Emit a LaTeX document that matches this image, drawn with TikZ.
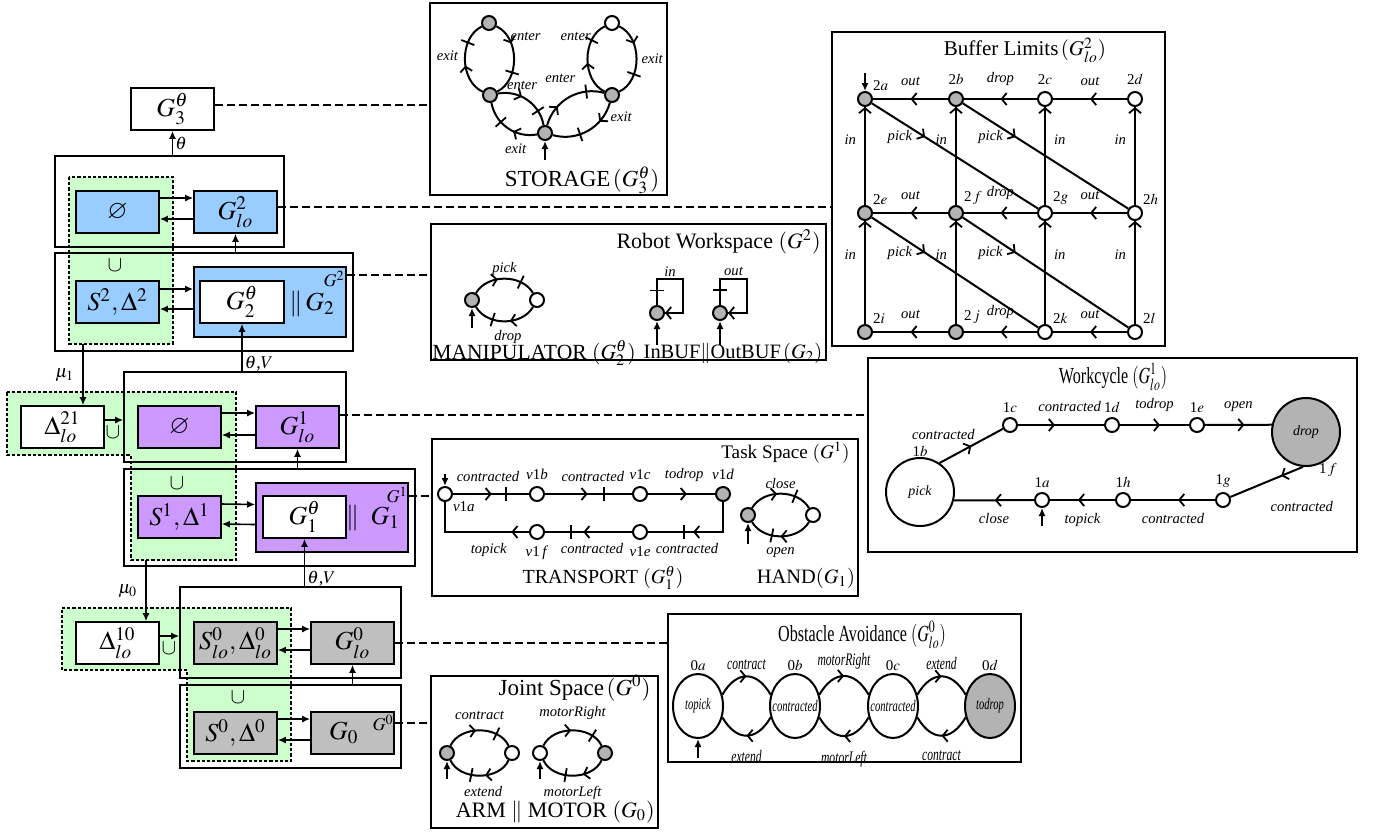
\documentclass[tikz,border=0pt]{standalone}
\usepackage{amsmath,amssymb}
\usepackage{mathptmx}
\usepackage{fontspec}
\setmainfont{Liberation Serif}
\usepackage{xcolor}
\usepackage{tikz}
\usetikzlibrary{arrows.meta, positioning, shapes.geometric, decorations.markings}

\definecolor{lvltwo}{RGB}{153,204,255}
\definecolor{lvlone}{RGB}{204,153,255}
\definecolor{lvlzero}{RGB}{191,191,191}
\definecolor{shared}{RGB}{204,255,204}
\definecolor{marked}{RGB}{179,179,179}

\begin{document}
\begin{tikzpicture}[
    x=0.5pt, y=-0.5pt,
    frame/.style={draw, line width=0.8pt, inner sep=0pt},
    blk/.style={draw, line width=0.8pt, inner sep=0pt, minimum width=41.5pt, minimum height=21pt, font=\fontsize{13}{14}\selectfont},
    shareset/.style={fill=shared, draw=black, line width=0.7pt, dash pattern=on 1.6pt off 1pt},
    panel/.style={draw, line width=0.9pt, inner sep=0pt},
    ttl/.style={font=\fontsize{11}{12}\selectfont, inner sep=1pt},
    ttlc/.style={font=\fontsize{11.5}{12}\selectfont, inner sep=1pt, xscale=0.7},
    sym/.style={font=\fontsize{9}{10}\selectfont, inner sep=1pt},
    uni/.style={font=\fontsize{11}{12}\selectfont, inner sep=1pt},
    arr/.style={-{Latex[length=4pt,width=3.5pt]}, line width=0.8pt},
    link/.style={dash pattern=on 4pt off 2pt, line width=0.8pt},
    st/.style={circle, draw, line width=1pt, minimum size=7pt, inner sep=0pt, fill=white},
    mst/.style={st, fill=marked},
    bigst/.style={circle, draw, line width=1pt, minimum size=34pt, inner sep=0pt, font=\fontsize{7}{8}\selectfont\itshape},
    obs/.style={ellipse, draw, line width=1pt, minimum width=25pt, minimum height=32pt, inner sep=0pt},
    obsl/.style={font=\fontsize{8}{9}\selectfont\itshape, inner sep=0pt, xscale=0.66},
    evl/.style={font=\fontsize{7.3}{8}\selectfont\itshape, inner sep=1pt},
    evlc/.style={font=\fontsize{8.8}{9}\selectfont\itshape, inner sep=1pt, xscale=0.66},
    stl/.style={font=\fontsize{7.5}{8}\selectfont, inner sep=1pt},
    tr/.style={line width=1pt},
    arw/.style={postaction={decorate, decoration={markings, mark=at position #1 with {\arrow[line width=0.9pt]{Straight Barb[length=2.5pt,width=6pt]}}}}},
    arw/.default=0.5,
    tck/.style={postaction={decorate, decoration={markings, mark=at position #1 with {\draw[line width=0.9pt] (0pt,-3.5pt) -- (0pt,3.5pt);}}}},
    init/.style={-{Latex[length=4pt,width=3.5pt]}, line width=1pt},
]
\useasboundingbox (0,0) rectangle (1374,832);

% shared state sets
\filldraw[shareset] (69,177) rectangle (173,344);
\filldraw[shareset] (7,392) -- (236,392) -- (236,560) -- (131,560) -- (131,455) -- (7,455) -- cycle;
\filldraw[shareset] (62,608) -- (291,608) -- (291,761) -- (187,761) -- (187,670) -- (62,670) -- cycle;

% level frames
\node[frame, minimum width=114.5pt, minimum height=45.5pt] (top2) at (169.5,201.5) {};
\node[frame, minimum width=149pt, minimum height=49pt] (bot2) at (204,302) {};
\node[frame, minimum width=111pt, minimum height=45pt] (top1) at (235,417) {};
\node[frame, minimum width=145.5pt, minimum height=48.5pt] (bot1) at (269.5,517.5) {};
\node[frame, minimum width=110.5pt, minimum height=45.5pt] (top0) at (290.5,632.5) {};
\node[frame, minimum width=110.5pt, minimum height=41.5pt] (bot0) at (290.5,726.5) {};

% level 2
\node[blk, fill=white] (G3) at (172.5,109) {$G_3^\theta$};
\node[blk, fill=lvltwo] (emp2) at (117.5,212) {$\varnothing$};
\node[blk, fill=lvltwo] (Glo2) at (235.5,212) {$G^2_{lo}$};
\node[blk, fill=lvltwo] (SD2) at (117.5,302) {$S^2,\Delta^2$};
\node[frame, fill=lvltwo, minimum width=76pt, minimum height=35pt] (sys2) at (270,302) {};
\node[blk, fill=white, minimum width=42pt] (Gth2) at (242,302) {$G_2^\theta$};
\node[font=\fontsize{13}{14}\selectfont] (par2) at (312,304) {$\|\,G_2$};
\node[sym] (tag2) at (334,279) {$G^2$};
\node[uni] (un2) at (115,265) {$\cup$};

% level 1
\node[blk, fill=white] (D21) at (62.5,427) {$\Delta^{21}_{lo}$};
\node[blk, fill=lvlone] (emp1) at (179.5,427) {$\varnothing$};
\node[blk, fill=lvlone] (Glo1) at (297.5,427) {$G^1_{lo}$};
\node[blk, fill=lvlone] (SD1) at (179.5,517) {$S^1,\Delta^1$};
\node[frame, fill=lvlone, minimum width=76pt, minimum height=34.5pt] (sys1) at (332,517.5) {};
\node[blk, fill=white] (Gth1) at (304.5,517) {$G_1^\theta$};
\node[font=\fontsize{13}{14}\selectfont] (par1) at (373,518) {$\|\;\;G_1$};
\node[sym] (tag1) at (397,495) {$G^1$};
\node[uni] (un1) at (177,483) {$\cup$};
\node[uni] (un21) at (113,432) {$\cup$};

% level 0
\node[blk, fill=white] (D10) at (117.5,643) {$\Delta^{10}_{lo}$};
\node[blk, fill=lvlzero] (SDlo0) at (235.5,643) {$S^0_{lo},\Delta^0_{lo}$};
\node[blk, fill=lvlzero] (Glo0) at (352.5,643) {$G^0_{lo}$};
\node[blk, fill=lvlzero] (SD0) at (235.5,733) {$S^0,\Delta^0$};
\node[blk, fill=lvlzero] (G0) at (352.5,733) {$G_0\;\;\;$};
\node[sym] (tag0) at (383,723) {$G^0$};
\node[uni] (un0) at (238,697) {$\cup$};
\node[uni] (un10) at (169,648) {$\cup$};

% level connectors
\draw[arr] ([yshift=7pt]emp2.east) -- ([yshift=7pt]Glo2.west);
\draw[arr] ([yshift=-3.5pt]Glo2.west) -- ([yshift=-3.5pt]emp2.east);
\draw[arr] ([yshift=6.5pt]SD2.east) -- ([yshift=6.5pt]sys2.west);
\draw[arr] ([yshift=-3.5pt]sys2.west) -- ([yshift=-3.5pt]SD2.east);
\draw[arr] ([yshift=7pt]emp1.east) -- ([yshift=7pt]Glo1.west);
\draw[arr] ([yshift=-4pt]Glo1.west) -- ([yshift=-4pt]emp1.east);
\draw[arr] ([yshift=6.5pt]SD1.east) -- ([yshift=6.5pt]sys1.west);
\draw[arr] ([yshift=-3.5pt]sys1.west) -- ([yshift=-3.5pt]SD1.east);
\draw[arr] ([yshift=7pt]SDlo0.east) -- ([yshift=7pt]Glo0.west);
\draw[arr] ([yshift=-3.5pt]Glo0.west) -- ([yshift=-3.5pt]SDlo0.east);
\draw[arr] ([yshift=7pt]SD0.east) -- ([yshift=7pt]G0.west);
\draw[arr] ([yshift=-3.5pt]G0.west) -- ([yshift=-3.5pt]SD0.east);

\draw[arr] (top2.north -| G3) -- (G3.south) node[sym, midway, right] {$\theta$};
\draw[arr] (bot2.north -| Glo2) -- (Glo2.south);
\draw[arr] (top1.north -| Gth2) -- (Gth2.south) node[sym, pos=0.15, right] {$\theta$,$V$};
\draw[arr] (bot1.north -| Glo1) -- (Glo1.south);
\draw[arr] (top0.north -| Gth1) -- (Gth1.south) node[sym, pos=0.15, right] {$\theta$,$V$};
\draw[arr] (bot0.north -| Glo0) -- (Glo0.south);

\coordinate (foot2) at (83,344);
\coordinate (foot1) at (146,560);
\draw[arr] (foot2) -- (foot2 |- D21.north) node[sym, midway, left=3pt] {$\mu_1$};
\draw[arr] (foot1) -- (foot1 |- D10.north) node[sym, midway, left=3pt] {$\mu_0$};
\draw[arr] ([yshift=3.5pt]D21.east) -- ([yshift=3.5pt]D21.east -| top1.west);
\draw[arr] ([yshift=3.5pt]D10.east) -- ([yshift=3.5pt]D10.east -| top0.west);

% panels
\node[panel, minimum width=118.5pt, minimum height=96pt] (stor) at (548.5,99) {};
\node[panel, minimum width=197.5pt, minimum height=68pt] (robot) at (628.5,292) {};
\node[panel, minimum width=166.5pt, minimum height=157pt] (buf) at (998.5,189) {};
\node[panel, minimum width=244.5pt, minimum height=97pt] (work) at (1112.5,455) {};
\node[panel, minimum width=213pt, minimum height=78.5pt] (task) at (645,517.5) {};
\node[panel, minimum width=176.5pt, minimum height=74pt] (obst) at (844.5,688) {};
\node[panel, minimum width=113.5pt, minimum height=76pt] (joint) at (544.5,752) {};

% dashed links
\draw[link] ([yshift=2pt]G3.east) -- ([yshift=2pt]G3.east -| stor.west);
\draw[link] ([yshift=2.5pt]Glo2.east) -- ([yshift=2.5pt]Glo2.east -| buf.west);
\draw[link] ([yshift=13.5pt]sys2.east) -- ([yshift=13.5pt]sys2.east -| robot.west);
\draw[link] ([yshift=6pt]Glo1.east) -- ([yshift=6pt]Glo1.east -| work.west);
\draw[link] ([yshift=10.75pt]sys1.east) -- ([yshift=10.75pt]sys1.east -| task.west);
\draw[link] (Glo0.east) -- (Glo0.east -| obst.west);
\draw[link] ([yshift=5pt]G0.east) -- ([yshift=5pt]G0.east -| joint.west);

% STORAGE
\node[ttl, font=\fontsize{11.5}{12}\selectfont] (ttlstor) at (582,180) {STORAGE$\,(G_3^\theta)$};
\node[mst] (st1) at (489,23) {};
\node[st] (st2) at (612,23) {};
\node[mst] (st3) at (490,95) {};
\node[mst] (st4) at (612,95) {};
\node[mst] (st5) at (545,133) {};
\coordinate (st5in) at (545,160);
\draw[init] (st5in) -- (st5);
\draw[tr, arw=0.3, tck=0.68] (st1) to[bend left=65] node[evl, pos=0.2, right] {enter} (st3);
\draw[tr, arw=0.42, tck=0.72] (st3) to[bend left=65] node[evl, pos=0.55, left=2pt] {exit} (st1);
\draw[tr, arw=0.4, tck=0.75] (st3) to[bend left=45] node[evl, pos=0.4, above=2pt] {enter} (st5);
\draw[tr, arw=0.4, tck=0.65] (st5) to[bend left=45] node[evl, pos=0.35, below=4pt] {exit} (st3);
\draw[tr, arw=0.3, tck=0.75] (st5) to[bend left=45] node[evl, pos=0.35, above=9pt] {enter} (st4);
\draw[tr, arw=0.3, tck=0.62] (st4) to[bend left=45] node[evl, pos=0.2, right=2pt] {exit} (st5);
\draw[tr, arw=0.45, tck=0.75] (st4) to[bend left=65] node[evl, pos=0.8, left] {enter} (st2);
\draw[tr, arw=0.3, tck=0.7] (st2) to[bend left=65] node[evl, pos=0.5, right=1pt] {exit} (st4);

% Robot Workspace
\node[ttl, anchor=east] (ttlrobot) at (823,242) {Robot Workspace $(G^2)$};
\node[ttl, font=\fontsize{10.8}{12}\selectfont] (ttlmanip) at (534,353) {MANIPULATOR $(G_2^\theta)$};
\node[ttl, font=\fontsize{10.2}{11}\selectfont] (ttlbuf) at (733,353) {InBUF$\|$OutBUF$\,(G_2)$};
\node[mst] (ma1) at (472,300) {};
\node[st] (ma2) at (537,300) {};
\coordinate (ma1in) at (472,328);
\draw[init] (ma1in) -- (ma1);
\draw[tr, arw=0.4, tck=0.75] (ma1) to[bend left=60] node[evl, pos=0.5, above] {pick} (ma2);
\draw[tr, arw=0.42, tck=0.68] (ma2) to[bend left=60] node[evl, pos=0.45, below=3pt] {drop} (ma1);
\node[mst] (inb) at (657,313) {};
\node[mst] (outb) at (720,313) {};
\coordinate (inbin) at (657,345);
\coordinate (outbin) at (720,345);
\draw[init] (inbin) -- (inb);
\draw[init] (outbin) -- (outb);
\draw[tr, tck=0.14, arw=1] (inb.north) |- ++(26,-26) node[evl, pos=0.75, above] {in} |- (inb.east);
\draw[tr, tck=0.14, arw=1] (outb.north) |- ++(27,-26) node[evl, pos=0.75, above] {out} |- (outb.east);

% Buffer Limits
\node[ttl, font=\fontsize{10.5}{12}\selectfont] (ttlbufl) at (1025,50) {Buffer Limits$\,(G^2_{lo})$};
\node[mst, label={[stl]above right:2$a$}] (b2a) at (865,99) {};
\node[mst, label={[stl,label distance=2pt]above:2$b$}] (b2b) at (956,99) {};
\node[st, label={[stl,label distance=2pt]above:2$c$}] (b2c) at (1045,99) {};
\node[st, label={[stl,label distance=2pt]above:2$d$}] (b2d) at (1135,99) {};
\node[mst, label={[stl]above right:2$e$}] (b2e) at (865,213) {};
\node[mst, label={[stl]above right:2$\,f$}] (b2f) at (956,213) {};
\node[st, label={[stl]above right:2$g$}] (b2g) at (1045,213) {};
\node[st, label={[stl]above right:2$h$}] (b2h) at (1135,213) {};
\node[mst, label={[stl]above right:2$i$}] (b2i) at (865,332) {};
\node[mst, label={[stl]above right:2$\,j$}] (b2j) at (956,332) {};
\node[st, label={[stl]above right:2$k$}] (b2k) at (1045,332) {};
\node[st, label={[stl]above right:2$l$}] (b2l) at (1135,332) {};
\coordinate (b2ain) at (865,73);
\draw[init] (b2ain) -- (b2a);
\draw[tr, arw] (b2b) -- node[evl, above=5pt] {out} (b2a);
\draw[tr, arw] (b2c) -- node[evl, above=5pt] {drop} (b2b);
\draw[tr, arw] (b2d) -- node[evl, above=5pt] {out} (b2c);
\draw[tr, arw] (b2f) -- node[evl, above=5pt] {out} (b2e);
\draw[tr, arw] (b2g) -- node[evl, above=5pt] {drop} (b2f);
\draw[tr, arw] (b2h) -- node[evl, above=5pt] {out} (b2g);
\draw[tr, arw] (b2j) -- node[evl, above=5pt] {out} (b2i);
\draw[tr, arw] (b2k) -- node[evl, above=5pt] {drop} (b2j);
\draw[tr, arw] (b2l) -- node[evl, above=5pt] {out} (b2k);
\draw[tr, arw=1] (b2e) -- node[evl, pos=0.67, left=3pt] {in} (b2a);
\draw[tr, arw=1] (b2f) -- node[evl, pos=0.67, left=3pt] {in} (b2b);
\draw[tr, arw=1] (b2g) -- node[evl, pos=0.67, right=3pt] {in} (b2c);
\draw[tr, arw=1] (b2h) -- node[evl, pos=0.67, left=3pt] {in} (b2d);
\draw[tr, arw=1] (b2i) -- node[evl, pos=0.67, left=3pt] {in} (b2e);
\draw[tr, arw=1] (b2j) -- node[evl, pos=0.67, left=3pt] {in} (b2f);
\draw[tr, arw=1] (b2k) -- node[evl, pos=0.67, right=3pt] {in} (b2g);
\draw[tr, arw=1] (b2l) -- node[evl, pos=0.67, left=3pt] {in} (b2h);
\draw[tr, arw=0.32] (b2a) -- node[evl, pos=0.32, left=5pt] {pick} (b2g);
\draw[tr, arw=0.32] (b2b) -- node[evl, pos=0.32, left=5pt] {pick} (b2h);
\draw[tr, arw=0.32] (b2e) -- node[evl, pos=0.32, left=5pt] {pick} (b2k);
\draw[tr, arw=0.32] (b2f) -- node[evl, pos=0.32, left=5pt] {pick} (b2l);

% Workcycle
\node[ttlc] (ttlwork) at (1113,377) {Workcycle $(G^1_{lo})$};
\node[bigst, label={[stl,label distance=-1pt]above:1$b$}] (w1b) at (920,492) {pick};
\node[st, label={[stl,label distance=1pt]above:1$c$}] (w1c) at (1010,425) {};
\node[st, label={[stl,label distance=1pt]above:1$d$}] (w1d) at (1112,425) {};
\node[st, label={[stl,label distance=1pt]above:1$e$}] (w1e) at (1197,425) {};
\node[bigst, fill=marked, label={[stl,label distance=-2pt]-70:1$\,f$}] (w1f) at (1306,432) {drop};
\node[st, label={[stl,label distance=1pt]above:1$g$}] (w1g) at (1223,500) {};
\node[st, label={[stl,label distance=1pt]above:1$h$}] (w1h) at (1123,500) {};
\node[st, label={[stl,label distance=1pt]above:1$a$}] (w1a) at (1042,500) {};
\coordinate (w1ain) at (1042,526);
\draw[init] (w1ain) -- (w1a);
\draw[tr, arw] (w1b.56) -- node[evl, pos=0.6, above left] {contracted} (w1c);
\draw[tr, arw=0.43] (w1c) -- node[evl, pos=0.6, above=5pt] {contracted} (w1d);
\draw[tr, arw=0.58] (w1d) -- node[evl, pos=0.5, above=5pt] {todrop} (w1e);
\draw[tr, arw=0.59] (w1e) -- node[evl, pos=0.5, above=5pt] {open} (w1f.168);
\draw[tr, arw=0.3] (w1f.-95) -- node[evl, pos=0.75, below right=4.5pt and 9.5pt] {contracted} (w1g);
\draw[tr, arw=0.44] (w1g) -- node[evl, pos=0.5, below=5pt] {contracted} (w1h);
\draw[tr, arw=0.57] (w1h) -- node[evl, pos=0.5, below=5pt] {topick} (w1a);
\draw[tr, arw=0.49] (w1a) -- node[evl, pos=0.5, below=5pt] {close} (w1b.-14);

% Task Space
\node[ttl, anchor=east, font=\fontsize{9.6}{11}\selectfont] (ttltask) at (852,453) {Task Space $(G^1)$};
\node[ttl, font=\fontsize{10}{11}\selectfont] (ttltrans) at (603,578) {TRANSPORT $(G_1^\theta)$};
\node[ttl, font=\fontsize{10.2}{11}\selectfont] (ttlhand) at (806,578) {HAND$(G_1)$};
\node[st, label={[stl]below right:\textit{v}1\textit{a}}] (v1a) at (445,494) {};
\node[st, label={[stl,label distance=2pt]above:\textit{v}1\textit{b}}] (v1b) at (537,494) {};
\node[st, label={[stl,label distance=2pt]above:\textit{v}1\textit{c}}] (v1c) at (640,494) {};
\node[mst, label={[stl,label distance=2pt]above:\textit{v}1\textit{d}}] (v1d) at (723,494) {};
\node[st, label={[stl,label distance=2pt]below:\textit{v}1\textit{e}}] (v1e) at (640,532) {};
\node[st, label={[stl,label distance=2pt]below:\textit{v}1\,\textit{f}}] (v1f) at (537,532) {};
\coordinate (v1ain) at (445,474);
\draw[init] (v1ain) -- (v1a);
\draw[tr, arw=0.51, tck=0.7] (v1a) -- node[evl, pos=0.46, above=4.5pt] {contracted} (v1b);
\draw[tr, arw=0.49, tck=0.68] (v1b) -- node[evl, pos=0.55, above=4.5pt] {contracted} (v1c);
\draw[tr, arw=0.58] (v1c) -- node[evl, pos=0.54, above=4.5pt] {todrop} (v1d);
\draw[tr, arw=0.57, tck=0.66] (v1d) |- node[evl, pos=0.74, below=4pt] {contracted} (v1e);
\draw[tr, arw=0.56, tck=0.7] (v1e) -- node[evl, pos=0.46, below=4pt] {contracted} (v1f);
\draw[tr, arw=0.155] (v1f) -| node[evl, pos=0.24, below=4pt] {topick} (v1a);
\node[mst] (h1) at (748,515) {};
\node[st] (h2) at (813,515) {};
\coordinate (h1in) at (748,544);
\draw[init] (h1in) -- (h1);
\draw[tr, arw=0.45, tck=0.72] (h1) to[bend left=60] node[evl, pos=0.5, above=1pt] {close} (h2);
\draw[tr, arw=0.5, tck=0.63] (h2) to[bend left=60] node[evl, pos=0.5, below=4pt] {open} (h1);

% Obstacle Avoidance
\node[ttlc] (ttlobst) at (862,635) {Obstacle Avoidance $(G^0_{lo})$};
\node[obs, label={[stl]above:0$a$}, label={[obsl]center:topick}] (o0a) at (698,706) {};
\node[obs, label={[stl]above:0$b$}, label={[obsl]center:contracted}] (o0b) at (795,706) {};
\node[obs, label={[stl]above:0$c$}, label={[obsl]center:contracted}] (o0c) at (893,706) {};
\node[obs, fill=marked, label={[stl]above:0$d$}, label={[obsl]center:todrop}] (o0d) at (990,706) {};
\coordinate (o0ain) at (698,758);
\draw[init] (o0ain) -- (o0a);
\draw[tr, arw] (o0a.25) to[out=60, in=120, looseness=1.5] node[evlc, above=2pt] {contract} (o0b.155);
\draw[tr, arw] (o0b.205) to[out=240, in=300, looseness=1.5] node[evlc, below=6pt] {extend} (o0a.335);
\draw[tr, arw] (o0b.25) to[out=60, in=120, looseness=1.5] node[evlc, above=2pt] {motorRight} (o0c.155);
\draw[tr, arw] (o0c.205) to[out=240, in=300, looseness=1.5] node[evlc, below=6pt] {motorLeft} (o0b.335);
\draw[tr, arw] (o0c.25) to[out=60, in=120, looseness=1.5] node[evlc, above=2pt] {extend} (o0d.155);
\draw[tr, arw] (o0d.205) to[out=240, in=300, looseness=1.5] node[evlc, below=6pt] {contract} (o0c.335);

% Joint Space
\node[ttl, anchor=east, font=\fontsize{11.5}{12}\selectfont] (ttljoint) at (653,688) {Joint Space$\,(G^0)$};
\node[ttl, anchor=east] (ttlarm) at (657,812) {ARM $\|$ MOTOR $(G_0)$};
\node[mst] (a1) at (447,753) {};
\node[st] (a2) at (512,753) {};
\node[st] (m1) at (540,753) {};
\node[mst] (m2) at (605,753) {};
\coordinate (a1in) at (447,779);
\coordinate (m1in) at (540,779);
\draw[init] (a1in) -- (a1);
\draw[init] (m1in) -- (m1);
\draw[tr, arw=0.45, tck=0.75] (a1) to[bend left=65] node[evl, pos=0.5, above=4pt] {contract} (a2);
\draw[tr, arw=0.42, tck=0.62] (a2) to[bend left=65] node[evl, pos=0.45, below=4pt] {extend} (a1);
\draw[tr, arw=0.48, tck=0.8] (m1) to[bend left=65] node[evl, pos=0.5, above=4pt] {motorRight} (m2);
\draw[tr, arw=0.35, tck=0.6] (m2) to[bend left=65] node[evl, pos=0.5, below=4pt] {motorLeft} (m1);
\end{tikzpicture}
\end{document}
